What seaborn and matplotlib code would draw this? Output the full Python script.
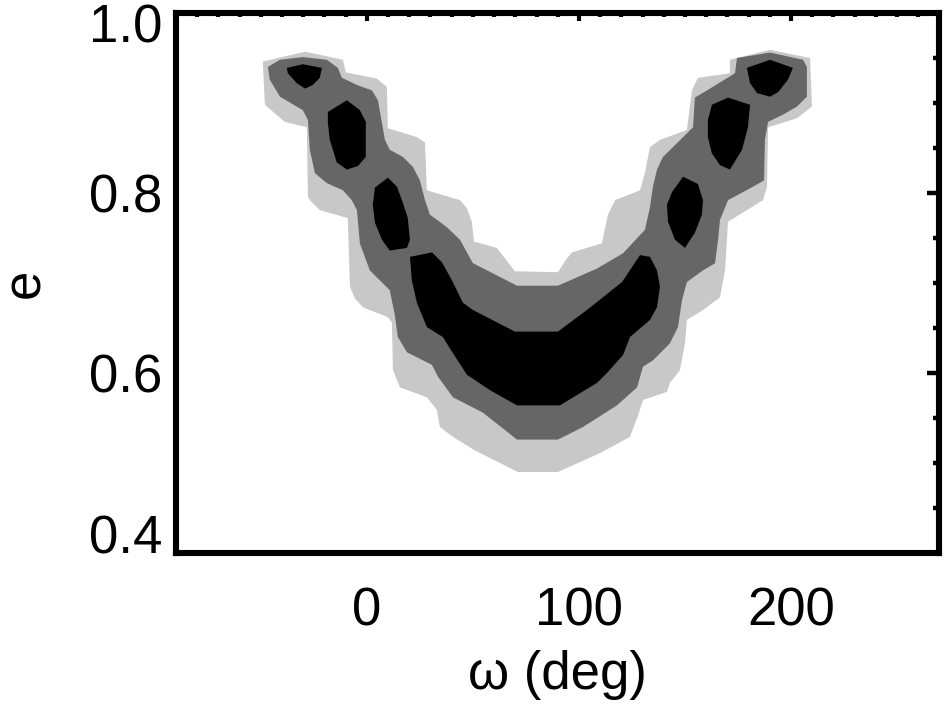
import numpy as np
import matplotlib
matplotlib.use("Agg")
import matplotlib.pyplot as plt
from matplotlib.ticker import MultipleLocator
from matplotlib.transforms import ScaledTranslation
import seaborn as sns

# ---------------- data (in data units) ----------------
# 3-level confidence regions in (omega [deg], e) space
light_omega = [-49.1, -29.2, -11.3, -9.9, 4.7, 9.4, 9.9, 23.6, 27.4, 28.3, 43.9, 47.2, 49.5,
               50.5, 61.3, 69.8, 90.1, 93.9, 96.7, 110.8, 113.7, 117.0, 128.8, 131.1, 133.5,
               138.2, 150.9, 153.3, 156.1, 171.2, 171.2, 190.1, 209.0, 209.9, 202.8, 189.2,
               188.7, 186.8, 179.2, 170.3, 168.9, 166.5, 158.5, 150.9, 150.0, 147.6, 142.9,
               141.5, 130.2, 127.9, 124.1, 109.9, 90.1, 71.2, 50.9, 40.6, 34.4, 33.0, 28.3,
               15.6, 12.3, 11.8, 9.9, -1.9, -5.7, -8.0, -9.0, -22.2, -26.9, -27.8, -28.3,
               -38.7, -48.1]
light_e = [0.946, 0.957, 0.948, 0.934, 0.927, 0.918, 0.872, 0.862, 0.856, 0.803, 0.792, 0.783,
           0.768, 0.746, 0.739, 0.713, 0.712, 0.726, 0.734, 0.744, 0.776, 0.792, 0.803, 0.822,
           0.851, 0.859, 0.870, 0.914, 0.928, 0.933, 0.948, 0.959, 0.950, 0.896, 0.883, 0.873,
           0.807, 0.792, 0.781, 0.768, 0.714, 0.684, 0.670, 0.659, 0.633, 0.603, 0.589, 0.579,
           0.570, 0.553, 0.529, 0.511, 0.490, 0.490, 0.514, 0.529, 0.540, 0.559, 0.573, 0.584,
           0.603, 0.656, 0.662, 0.673, 0.683, 0.696, 0.772, 0.781, 0.792, 0.796, 0.873, 0.879,
           0.898]

dark_omega = [-46.7, -41.0, -30.2, -18.9, -13.7, -11.8, -4.7, 2.4, 5.2, 7.1, 8.5, 10.8, 17.0,
              21.7, 25.0, 27.4, 29.7, 37.7, 43.9, 47.2, 50.0, 70.8, 90.1, 108.5, 120.8, 131.1,
              133.5, 134.9, 136.8, 139.6, 149.1, 153.8, 154.7, 160.4, 173.6, 174.5, 190.1,
              205.7, 207.5, 207.5, 202.8, 196.2, 189.2, 187.7, 187.3, 182.1, 170.3, 166.5,
              165.6, 164.2, 158.5, 150.9, 148.6, 146.7, 142.9, 134.9, 130.2, 127.4, 117.9,
              101.9, 90.1, 70.8, 54.7, 40.6, 33.5, 30.7, 18.9, 14.6, 13.2, 10.8, 1.4, -3.3,
              -4.7, -7.1, -11.3, -18.9, -24.5, -26.9, -27.8, -30.2, -41.0, -45.8]
dark_e = [0.940, 0.948, 0.951, 0.948, 0.939, 0.928, 0.920, 0.914, 0.903, 0.878, 0.859, 0.848,
          0.840, 0.829, 0.814, 0.792, 0.776, 0.762, 0.748, 0.734, 0.722, 0.697, 0.697, 0.716,
          0.733, 0.759, 0.784, 0.807, 0.826, 0.840, 0.862, 0.873, 0.906, 0.914, 0.933, 0.950,
          0.956, 0.948, 0.940, 0.907, 0.896, 0.887, 0.879, 0.859, 0.814, 0.807, 0.792, 0.770,
          0.748, 0.722, 0.714, 0.701, 0.681, 0.651, 0.633, 0.614, 0.607, 0.584, 0.564, 0.540,
          0.526, 0.526, 0.556, 0.573, 0.596, 0.609, 0.623, 0.640, 0.664, 0.692, 0.714, 0.744,
          0.781, 0.792, 0.803, 0.811, 0.822, 0.848, 0.881, 0.892, 0.907, 0.926]

core_omega = [20.3, 30.7, 35.4, 40.1, 45.3, 50.0, 69.8, 90.1, 103.8, 120.3, 128.8, 133.5,
              136.8, 138.2, 136.8, 133.5, 124.1, 120.8, 113.2, 108.5, 91.0, 70.8, 58.0, 47.2,
              40.6, 35.8, 28.3, 23.6, 21.2]
core_e = [0.729, 0.734, 0.723, 0.703, 0.678, 0.670, 0.646, 0.646, 0.670, 0.701, 0.731, 0.729,
          0.714, 0.696, 0.673, 0.659, 0.640, 0.620, 0.600, 0.589, 0.564, 0.564, 0.581, 0.598,
          0.622, 0.640, 0.651, 0.678, 0.703]

islandL1_omega = [-37.7, -30.2, -21.2, -22.2, -25.5, -29.2, -33.0, -37.3]
islandL1_e = [0.939, 0.943, 0.939, 0.928, 0.920, 0.916, 0.922, 0.933]
islandL2_omega = [-18.4, -9.4, -3.3, -0.5, -0.5, -4.2, -9.4, -14.2, -17.5, -18.4]
islandL2_e = [0.890, 0.903, 0.892, 0.879, 0.840, 0.830, 0.826, 0.834, 0.859, 0.878]
islandL3_omega = [9.9, 14.2, 17.0, 19.3, 20.3, 18.9, 10.8, 7.1, 3.8, 2.8, 3.8]
islandL3_e = [0.817, 0.807, 0.789, 0.772, 0.748, 0.739, 0.736, 0.748, 0.767, 0.787, 0.806]
islandR1_omega = [179.2, 190.1, 200.9, 198.6, 193.9, 190.1, 184.0, 180.7]
islandR1_e = [0.939, 0.948, 0.939, 0.926, 0.912, 0.907, 0.911, 0.922]
islandR2_omega = [162.7, 170.3, 180.7, 179.7, 176.9, 171.2, 166.5, 162.7, 160.8, 160.8]
islandR2_e = [0.898, 0.906, 0.898, 0.873, 0.848, 0.826, 0.831, 0.844, 0.862, 0.881]
islandR3_omega = [149.1, 156.1, 158.5, 158.0, 154.7, 150.0, 145.3, 142.0, 141.5, 143.9]
islandR3_e = [0.818, 0.810, 0.792, 0.776, 0.756, 0.739, 0.748, 0.768, 0.787, 0.801]

xtick_vals = [0, 100, 200]
xtick_labels = ["0", "100", "200"]
ytick_vals = [0.4, 0.6, 0.8, 1.0]
ytick_labels = ["0.4", "0.6", "0.8", "1.0"]

# ---------------- style ----------------
sns.set_theme(style="white")
plt.rcParams["font.family"] = ["Liberation Sans", "DejaVu Sans"]

fig = plt.figure(figsize=(9.52, 7.05), dpi=100)
ax = fig.add_axes([0.1849, 0.2156, 0.8019, 0.766])

c_light = "#c8c8c8"
c_dark = "#666666"
c_core = "#000000"

ax.fill(light_omega, light_e, color=c_light, lw=0, zorder=1)
ax.fill(dark_omega, dark_e, color=c_dark, lw=0, zorder=2)
for xs, ys in [(core_omega, core_e), (islandL1_omega, islandL1_e),
               (islandL2_omega, islandL2_e), (islandL3_omega, islandL3_e),
               (islandR1_omega, islandR1_e), (islandR2_omega, islandR2_e),
               (islandR3_omega, islandR3_e)]:
    ax.fill(xs, ys, color=c_core, lw=0, zorder=3)

ax.set_xlim(-90, 270)
ax.set_ylim(0.4, 1.0)

for sp in ax.spines.values():
    sp.set_visible(True)
    sp.set_color("black")
    sp.set_linewidth(4.4)
    sp.set_zorder(5)

ax.set_xticks(xtick_vals, xtick_labels)
ax.set_yticks(ytick_vals, ytick_labels)
ax.xaxis.set_minor_locator(MultipleLocator(10))
ax.yaxis.set_minor_locator(MultipleLocator(0.05))

ax.tick_params(which="both", direction="in", top=True, right=True, color="black",
               labelcolor="black")
ax.tick_params(axis="x", which="major", length=6, width=3, pad=24, labelsize=38)
ax.tick_params(axis="x", which="minor", length=3, width=3)
ax.tick_params(axis="y", which="major", length=9, width=3.2, pad=10, labelsize=38)
ax.tick_params(axis="y", which="minor", length=4.5, width=3.2)

ylabels = ax.get_yticklabels()
ylabels[0].set_verticalalignment("baseline")
ylabels[-1].set_verticalalignment("top")
ylabels[-1].set_transform(ylabels[-1].get_transform()
                          + ScaledTranslation(0, 7 / 72, fig.dpi_scale_trans))

ax.set_xlabel("ω (deg)", fontsize=38, labelpad=10, color="black")
ax.set_ylabel("e", fontsize=38, labelpad=28, color="black")
ax.grid(False)

fig.savefig("out.png", dpi=100, facecolor="white")
